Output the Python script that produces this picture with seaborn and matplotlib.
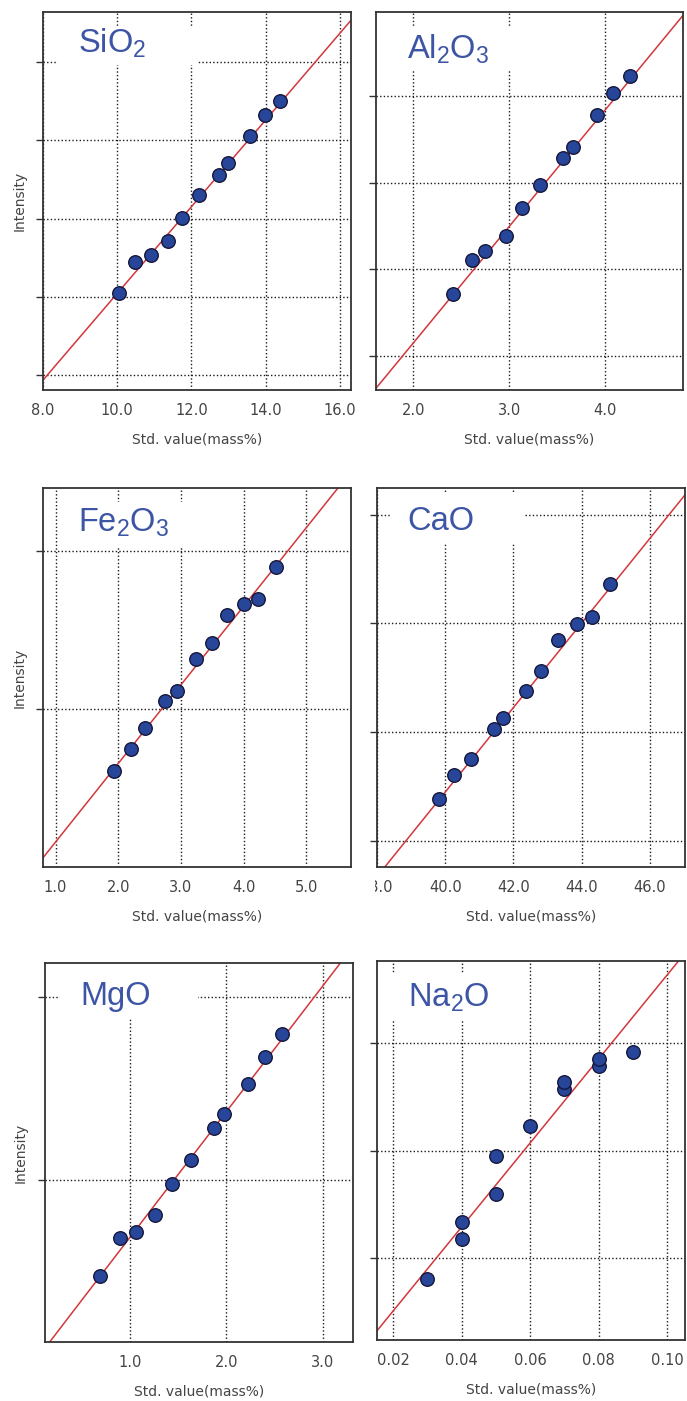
import numpy as np
import matplotlib
matplotlib.use("Agg")
import matplotlib.pyplot as plt
from matplotlib.patches import Rectangle
from matplotlib.transforms import Bbox, TransformedBbox
import seaborn as sns

# --- données (intensité en unités de graduation, sans échelle) ---
sio2_std = [10.05, 10.48, 10.90, 11.38, 11.75, 12.20, 12.73, 12.99, 13.59, 13.98, 14.39]
sio2_int = [1.05, 1.45, 1.54, 1.71, 2.01, 2.30, 2.56, 2.71, 3.05, 3.32, 3.50]
sio2_fit = (0.554, -4.496)

al2o3_std = [2.41, 2.61, 2.75, 2.97, 3.13, 3.32, 3.56, 3.66, 3.91, 4.08, 4.26]
al2o3_int = [0.72, 1.11, 1.21, 1.39, 1.71, 1.98, 2.29, 2.41, 2.78, 3.03, 3.23]
al2o3_fit = (1.344, -2.534)

fe2o3_std = [1.93, 2.20, 2.43, 2.75, 2.94, 3.24, 3.49, 3.73, 4.01, 4.22, 4.51]
fe2o3_int = [0.611, 0.749, 0.880, 1.051, 1.112, 1.317, 1.419, 1.594, 1.666, 1.700, 1.900]
fe2o3_fit = (0.498, -0.340)

cao_std = [39.81, 40.26, 40.77, 41.43, 41.70, 42.36, 42.81, 43.30, 43.86, 44.30, 44.83]
cao_int = [0.384, 0.607, 0.751, 1.028, 1.129, 1.380, 1.564, 1.849, 1.996, 2.055, 2.362]
cao_fit = (0.389, -15.113)

mgo_std = [0.69, 0.90, 1.06, 1.26, 1.44, 1.63, 1.87, 1.98, 2.23, 2.40, 2.58]
mgo_int = [0.471, 0.680, 0.713, 0.808, 0.978, 1.109, 1.282, 1.361, 1.522, 1.671, 1.799]
mgo_fit = (0.687, -0.002)

na2o_std = [0.03, 0.04, 0.04, 0.05, 0.05, 0.06, 0.07, 0.07, 0.08, 0.08, 0.09]
na2o_int = [-0.195, 0.176, 0.334, 0.594, 0.949, 1.230, 1.571, 1.638, 1.784, 1.846, 1.911]
na2o_fit = (39.0, -1.269)

W, H = 687, 1401
TITLE_COLOR = "#3d55a5"
POINT_COLOR = "#27469a"
LINE_COLOR = "#d2373c"
TEXT_COLOR = "#444444"

sns.set_theme(style="white")
plt.rcParams["font.family"] = ["DejaVu Sans"]
plt.rcParams["mathtext.default"] = "regular"

fig = plt.figure(figsize=(W / 100, H / 100), dpi=100)


def px_rect(l, t, r, b):
    return [l / W, 1 - b / H, (r - l) / W, (b - t) / H]


def panel(rect, x, y, fit, xlim, ylim, xticks, yticks, fmt, title, title_pos, box,
          ylabel=False, ylabel_x=-0.052):
    ax = fig.add_axes(px_rect(*rect))
    ax.set_axisbelow(True)
    ax.grid(True, color="#1a1a1a", linestyle=(0, (1, 1.6)), linewidth=1.0)
    ax.add_patch(Rectangle((box[0], box[1]), box[2] - box[0], box[3] - box[1],
                           transform=ax.transAxes, facecolor="white",
                           edgecolor="none", zorder=1))
    ax.axline((0, fit[1]), slope=fit[0], color=LINE_COLOR, linewidth=1.1, zorder=2)
    sns.scatterplot(x=x, y=y, ax=ax, s=95, color=POINT_COLOR,
                    edgecolor="#15173a", linewidth=1.0, zorder=3)
    ax.set_xlim(*xlim)
    ax.set_ylim(*ylim)
    ax.set_xticks(xticks)
    ax.set_xticklabels([fmt.format(v) for v in xticks])
    ax.set_yticks(yticks)
    ax.set_yticklabels([])
    ax.tick_params(axis="x", length=0, pad=9.5, labelsize=10.5, labelcolor=TEXT_COLOR)
    ax.tick_params(axis="y", left=True, direction="out", length=5, width=1.0,
                   color="#333333")
    for s in ax.spines.values():
        s.set_color("#333333")
        s.set_linewidth(1.3)
    ax.text(title_pos[0], title_pos[1], title, transform=ax.transAxes,
            fontsize=23.5, color=TITLE_COLOR, family="Liberation Sans",
            ha="left", va="baseline", zorder=4)
    ax.set_xlabel("Std. value(mass%)", fontsize=10, color=TEXT_COLOR)
    ax.xaxis.set_label_coords(0.5, -0.113)
    if ylabel:
        ax.set_ylabel("Intensity", fontsize=10, color=TEXT_COLOR)
        ax.yaxis.set_label_coords(ylabel_x, 0.5)
    else:
        ax.set_ylabel("")
    return ax


panel((43, 12, 351, 390), sio2_std, sio2_int, sio2_fit, (8.0, 16.3), (-0.19, 4.64),
      [8, 10, 12, 14, 16], [0, 1, 2, 3, 4], "{:.1f}", r"SiO$_\mathregular{2}$",
      (0.114, 0.892), (0.049, 0.860, 0.50, 0.960), ylabel=True)

panel((376, 12, 683, 390), al2o3_std, al2o3_int, al2o3_fit, (1.61, 4.81), (-0.39, 3.97),
      [2, 3, 4], [0, 1, 2, 3], "{:.1f}", r"Al$_\mathregular{2}$O$_\mathregular{3}$",
      (0.10, 0.878), (0.079, 0.846, 0.458, 0.96))

panel((43, 488, 351, 867), fe2o3_std, fe2o3_int, fe2o3_fit, (0.80, 5.71), (0.0, 2.40),
      [1, 2, 3, 4, 5], [1, 2], "{:.1f}", r"Fe$_\mathregular{2}$O$_\mathregular{3}$",
      (0.113, 0.885), (0.077, 0.845, 0.467, 0.964), ylabel=True)

ax_cao = panel((377, 488, 685, 867), cao_std, cao_int, cao_fit, (38.0, 47.03), (-0.242, 3.245),
               [38, 40, 42, 44, 46], [0, 1, 2, 3], "{:.1f}", "CaO",
               (0.10, 0.89), (0.041, 0.856, 0.48, 0.988))

panel((45, 963, 353, 1342), mgo_std, mgo_int, mgo_fit, (0.116, 3.316), (0.111, 2.186),
      [1, 2, 3], [1, 2], "{:.1f}", "MgO",
      (0.114, 0.888), (0.049, 0.854, 0.497, 1.0), ylabel=True, ylabel_x=-0.058)

panel((377, 961, 685, 1340), na2o_std, na2o_int, na2o_fit, (0.0153, 0.1052), (-0.758, 2.76),
      [0.02, 0.04, 0.06, 0.08, 0.10], [0, 1, 2], "{:.2f}", r"Na$_\mathregular{2}$O",
      (0.10, 0.879), (0.041, 0.844, 0.40, 0.968))

# l'étiquette 38.0 est rognée à gauche dans l'original
clip = TransformedBbox(Bbox([[375 / W, 0], [1, 1]]), fig.transFigure)
for lab in ax_cao.get_xticklabels():
    if lab.get_text() == "38.0":
        lab.set_clip_box(clip)
        lab.set_clip_on(True)

fig.savefig("out.png", dpi=100)
plt.close(fig)
